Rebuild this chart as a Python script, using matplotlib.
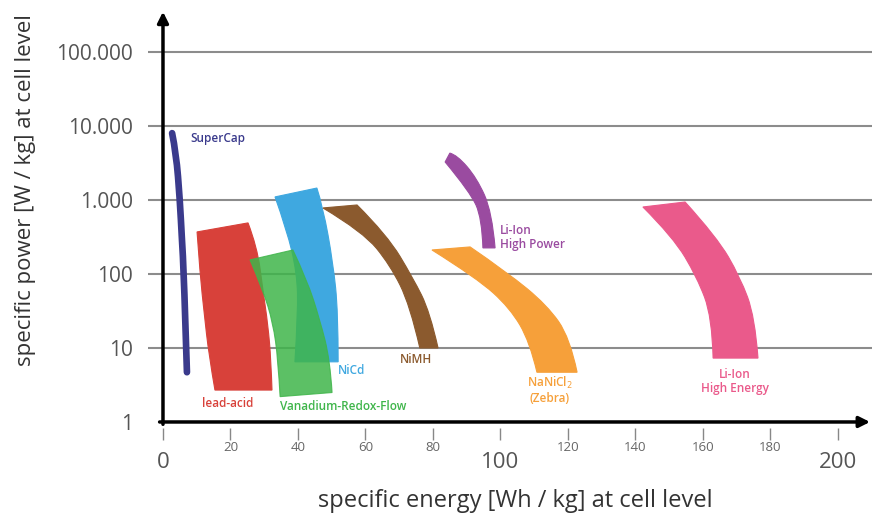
import numpy as np
import matplotlib.pyplot as plt
from matplotlib.path import Path
from matplotlib.patches import PathPatch
from matplotlib.ticker import NullLocator

plt.rcParams['font.family'] = ['Open Sans', 'DejaVu Sans']

# axis ticks as printed (dot used as thousands separator)
power_ticks = [1, 10, 100, 1000, 10000, 100000]
power_labels = ['1', '10', '100', '1.000', '10.000', '100.000']
energy_major = [0, 100, 200]
energy_minor = [20, 40, 60, 80, 120, 140, 160, 180]

# outlines of each technology region: energy [Wh/kg], power [W/kg]
# first edge runs top -> bottom, second edge runs bottom -> top
supercap_e = [2.7, 3.9, 5.0, 5.6, 6.2, 7.1]
supercap_p = [8000, 4300, 1000, 300, 100, 4.7]

lead_e = [10.1, 11.0, 12.2, 13.6, 15.4, 32.3, 32.0, 31.1, 29.6, 27.9, 25.2]
lead_p = [370, 97, 30, 8.0, 2.7, 2.7, 6.9, 20.5, 61, 232, 490]

vrf_e = [25.8, 29.6, 32.6, 34.1, 34.7, 50.1, 49.5, 46.5, 42.7, 38.5]
vrf_p = [155, 61, 21.8, 6.9, 2.2, 2.5, 6.9, 23.9, 83, 211]

nicd_e = [33.2, 36.7, 39.7, 40.0, 39.1, 51.9, 51.9, 50.4, 47.4, 45.6]
nicd_p = [1100, 393, 103, 30, 6.5, 6.5, 30, 141, 804, 1450]

nimh_e = [47.4, 59.3, 67.3, 73.2, 76.1, 81.5, 79.1, 74.1, 66.4, 57.5]
nimh_p = [780, 370, 132, 38, 10, 10, 30.7, 88, 337, 856]

nanicl_e = [79.7, 93.0, 102.8, 108.7, 110.8, 122.7, 120.6, 113.8, 101.9, 91.0]
nanicl_p = [211, 88, 34.7, 12.1, 4.7, 4.7, 13.7, 38, 106, 232]

lihp_e = [83.6, 91.0, 94.5, 94.8, 98.4, 97.5, 93.0, 87.1, 85.0]
lihp_p = [3260, 1280, 571, 225, 225, 689, 1980, 4060, 4300]

lihe_e = [142.2, 151.1, 158.2, 162.7, 163.0, 176.3, 175.4, 171.0, 164.1, 154.7]
lihe_p = [804, 316, 91, 26.2, 7.3, 7.3, 26.2, 91, 316, 939]

# (energy, power, points on first edge, colour, alpha)
regions = [
    (lead_e, lead_p, 5, '#d8413a', 1.0),
    (nicd_e, nicd_p, 5, '#3fa8e0', 1.0),
    (vrf_e, vrf_p, 5, '#3fb54a', 0.85),
    (nimh_e, nimh_p, 5, '#8b5a2e', 1.0),
    (nanicl_e, nanicl_p, 5, '#f6a03a', 1.0),
    (lihp_e, lihp_p, 4, '#9a4ba0', 1.0),
    (lihe_e, lihe_p, 5, '#ea5a8b', 1.0),
]


def smooth_edge(e, p, first):
    """quadratic bezier through midpoints (geometric in p, since y is log)"""
    verts = [(e[0], p[0])]
    codes = [Path.MOVETO if first else Path.LINETO]
    n = len(e)
    for i in range(1, n - 1):
        if i < n - 2:
            end = ((e[i] + e[i + 1]) / 2, np.sqrt(p[i] * p[i + 1]))
        else:
            end = (e[n - 1], p[n - 1])
        verts += [(e[i], p[i]), end]
        codes += [Path.CURVE3, Path.CURVE3]
    if n == 2:
        verts.append((e[1], p[1]))
        codes.append(Path.LINETO)
    return verts, codes


def region_path(e, p, k):
    v1, c1 = smooth_edge(e[:k], p[:k], True)
    v2, c2 = smooth_edge(e[k:], p[k:], False)
    return Path(v1 + v2 + [v1[0]], c1 + c2 + [Path.CLOSEPOLY])


fig = plt.figure(figsize=(8.74, 5.15), dpi=100)
ax = fig.add_axes([0.1691, 0.1447, 0.8283, 0.8406])
ax.set_yscale('log')
ax.set_xlim(-4.5, 210)
ax.set_ylim(10 ** -0.25, 10 ** 5.6)
for s in ax.spines.values():
    s.set_visible(False)

# horizontal grid
for p in power_ticks[1:]:
    ax.axhline(p, color='#8c8c8c', lw=1.5, zorder=1)

# regions
sv, sc = smooth_edge(supercap_e, supercap_p, True)
ax.add_patch(PathPatch(Path(sv, sc), fill=False, ec='#3a3a8c', lw=4.8,
                       capstyle='round', joinstyle='round', zorder=3))
for e, p, k, c, a in regions:
    ax.add_patch(PathPatch(region_path(e, p, k), fc=c, ec=c, lw=0.8,
                           alpha=a, zorder=3))

# axis arrows
arrow = dict(arrowstyle='-|>', lw=2.5, color='black', mutation_scale=16,
             shrinkA=0, shrinkB=0)
ax.annotate('', xy=(209.5, 1), xytext=(-1.0, 1), arrowprops=arrow,
            annotation_clip=False, zorder=5)
ax.annotate('', xy=(0, 3.5e5), xytext=(0, 0.93), arrowprops=arrow,
            annotation_clip=False, zorder=5)

# ticks
ax.set_yticks(power_ticks, power_labels)
ax.yaxis.set_minor_locator(NullLocator())
ax.tick_params(axis='y', length=0, pad=10.5, labelsize=15, labelcolor='#555555')
ax.set_xticks(energy_major, [str(v) for v in energy_major])
ax.set_xticks(energy_minor, [str(v) for v in energy_minor], minor=True)
ax.tick_params(axis='x', which='major', direction='in', length=9, width=1,
               color='#888888', pad=8, labelsize=16, labelcolor='#555555')
ax.tick_params(axis='x', which='minor', direction='in', length=9, width=1,
               color='#888888', pad=0.5, labelsize=9.5, labelcolor='#666666')

# region labels
lab = dict(fontsize=8.5, fontweight='semibold', zorder=6)
ax.text(8.0, 6700, 'SuperCap', color='#3a3a8c', ha='left', va='center', **lab)
ax.text(19.3, 1.8, 'lead-acid', color='#d8413a', ha='center', va='center', **lab)
ax.text(34.7, 1.6, 'Vanadium-Redox-Flow', color='#3fb54a', ha='left', va='center', **lab)
ax.text(51.9, 5.0, 'NiCd', color='#3fa8e0', ha='left', va='center', **lab)
ax.text(70.2, 6.9, 'NiMH', color='#8b5a2e', ha='left', va='center', **lab)
ax.text(99.9, 310, 'Li-Ion\nHigh Power', color='#9a4ba0', ha='left', va='center',
        linespacing=1.1, **lab)
ax.text(114.5, 2.7, 'NaNiCl$_2$\n(Zebra)', color='#f6a03a', ha='center', va='center',
        linespacing=1.1, **lab)
ax.text(169.5, 3.5, 'Li-Ion\nHigh Energy', color='#ea5a8b', ha='center', va='center',
        linespacing=1.1, **lab)

# axis titles
fig.text(0.590, 0.027, 'specific energy [Wh / kg] at cell level', ha='center',
         va='center', fontsize=17, color='#333333')
fig.text(0.029, 0.63, 'specific power [W / kg] at cell level', ha='center',
         va='center', rotation=90, fontsize=16, color='#333333')

fig.savefig('out.png', dpi=100)
